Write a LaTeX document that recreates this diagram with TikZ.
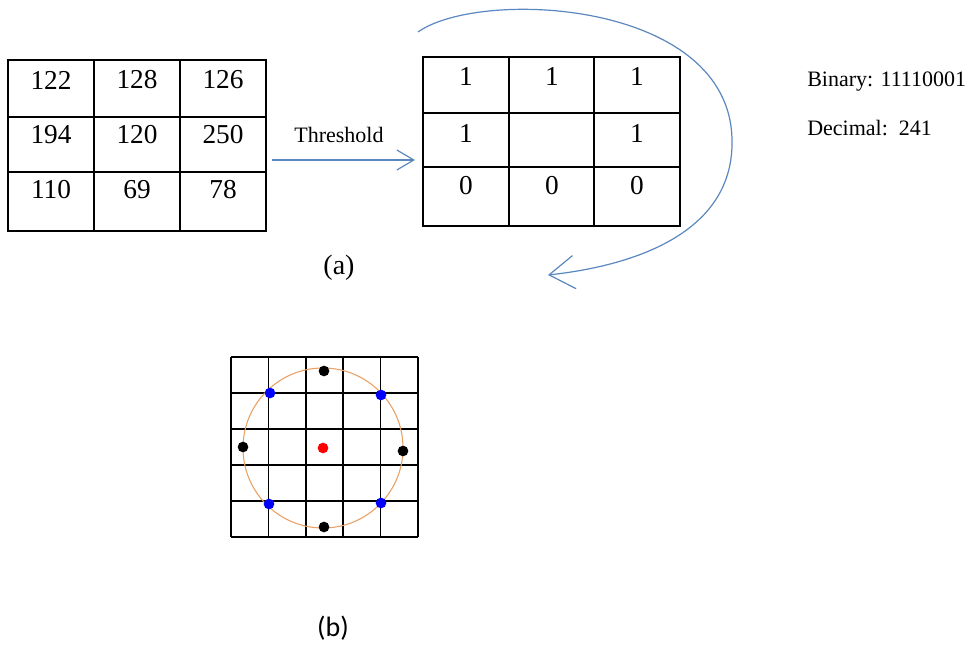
\documentclass[tikz,border=0pt]{standalone}
\usepackage{fontspec}
\setmainfont{Liberation Serif}
\newfontfamily\carl{Carlito}
\usetikzlibrary{arrows.meta}
\definecolor{arrblue}{RGB}{90,135,190}
\definecolor{circor}{RGB}{232,160,100}
\begin{document}
\begin{tikzpicture}[x=0.75pt,y=-0.75pt,
  tbl/.style={line width=1.1pt, black},
  num/.style={font=\fontsize{20.5}{23}\selectfont, inner sep=0pt},
  lbl/.style={font=\fontsize{16.5}{19}\selectfont, inner sep=0pt},
  captxt/.style={font=\fontsize{21}{24}\selectfont, inner sep=0pt},
  conn/.style={arrblue, line width=0.9pt},
  dot/.style={circle, inner sep=0pt, minimum size=8pt}]
\useasboundingbox (0,0) rectangle (972,645);

% left table
\draw[tbl] (8,60) rectangle (266,231);
\draw[tbl] (94,60) -- (94,231) (180,60) -- (180,231) (8,117) -- (266,117) (8,172) -- (266,172);
\node[num] (l11) at (51,80) {122};
\node[num] (l12) at (137,80) {128};
\node[num] (l13) at (223,80) {126};
\node[num] (l21) at (51,135) {194};
\node[num] (l22) at (137,135) {120};
\node[num] (l23) at (223,135) {250};
\node[num] (l31) at (51,190) {110};
\node[num] (l32) at (137,190) {69};
\node[num] (l33) at (223,190) {78};

% right table
\draw[tbl] (423,57) rectangle (680,226);
\draw[tbl] (509,57) -- (509,226) (594,57) -- (594,226) (423,113) -- (680,113) (423,167) -- (680,167);
\node[num] (r11) at (466,76) {1};
\node[num] (r12) at (552,76) {1};
\node[num] (r13) at (637,76) {1};
\node[num] (r21) at (466,133) {1};
\node[num] (r23) at (637,133) {1};
\node[num] (r31) at (466,186) {0};
\node[num] (r32) at (552,186) {0};
\node[num] (r33) at (637,186) {0};

% threshold arrow
\coordinate (thA) at (272,160);
\coordinate (thB) at (415,160);
\draw[conn, -{Straight Barb[length=12.75pt,width=15pt]}] (thA) -- (thB);
\node[lbl] (thr) at (339,135) {Threshold};

% curved arrow
\coordinate (cA) at (418,32);
\coordinate (cB) at (732,140);
\coordinate (cC) at (548,275);
\draw[conn, -{Straight Barb[length=19pt,width=25pt]}] (cA) .. controls (480,-12) and (730,0) .. (cB) .. controls (734,230) and (640,265) .. (cC);

% binary / decimal
\node[lbl, anchor=west] (bin) at (807,82) {Binary: 11110001};
\node[lbl, anchor=west] (dec) at (807,128) {Decimal:\ \ 241};

\node[captxt] (capa) at (339,268) {(a)};

% grid (b)
\foreach \i in {0,...,5} {
  \draw[tbl] ({231+37.4*\i},357) -- ({231+37.4*\i},537);
  \draw[tbl] (231,{357+36*\i}) -- (418,{357+36*\i});
}
\coordinate (cc) at (323,448);
\draw[circor, line width=0.8pt] (cc) circle [radius=60pt];
\node[dot, fill=black] (p1) at (324,371) {};
\node[dot, fill=black] (p2) at (324,527) {};
\node[dot, fill=black] (p3) at (243,447) {};
\node[dot, fill=black] (p4) at (403,451) {};
\node[dot, fill=blue] (q1) at (270,393) {};
\node[dot, fill=blue] (q2) at (381,395) {};
\node[dot, fill=blue] (q3) at (269,504) {};
\node[dot, fill=blue] (q4) at (381,503) {};
\node[dot, fill=red] (ctr) at (cc) {};

\node[captxt, font=\carl\fontsize{21}{24}\selectfont] (capb) at (333,628) {(b)};
\end{tikzpicture}
\end{document}
